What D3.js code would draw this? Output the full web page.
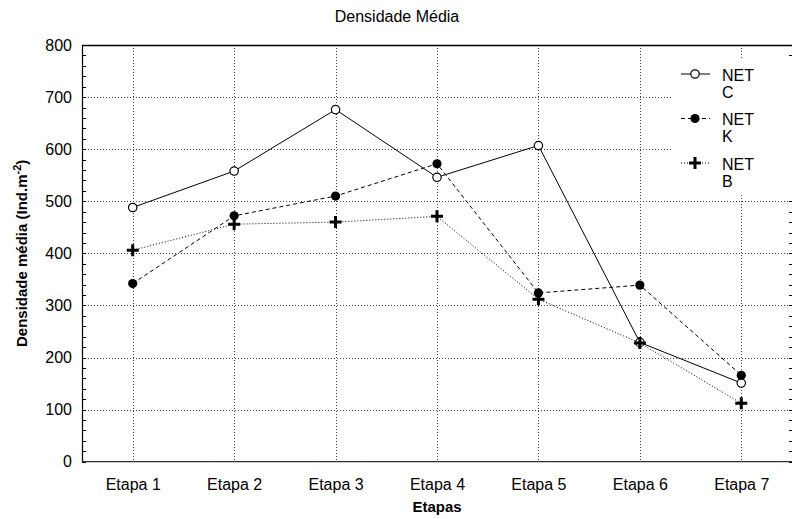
<!DOCTYPE html>
<html>
<head>
<meta charset="utf-8">
<script src="https://cdn.jsdelivr.net/npm/d3@7"></script>
<style>
  html, body { margin: 0; padding: 0; background: #fff; }
  svg { display: block; font-family: "Liberation Sans", Arial, sans-serif; }
</style>
</head>
<body>
<svg id="chart" width="793" height="519"></svg>
<script>
// Stages on the x axis
const etapas = ["Etapa 1", "Etapa 2", "Etapa 3", "Etapa 4", "Etapa 5", "Etapa 6", "Etapa 7"];
// Mean density (ind.m-2) per net type
const netC = [488, 558, 676, 546, 607, 229, 151];
const netK = [342, 472, 510, 572, 324, 339, 166];
const netB = [406, 456, 460, 471, 312, 228, 112];
// Y-axis ticks
const yTicks = [0, 100, 200, 300, 400, 500, 600, 700, 800];
const seriesNames = [["NET", "C"], ["NET", "K"], ["NET", "B"]];

const svg = d3.select("#chart");
const plotL = 82, plotR = 792, plotT = 45, plotB = 461.7;

const x = d3.scalePoint().domain(etapas).range([plotL, plotR]).padding(0.5);
const y = d3.scaleLinear().domain([0, 800]).range([plotB, plotT]);
const snap = v => Math.round(v) + 0.5;

const grid = svg.append("g").attr("stroke", "#444").attr("stroke-width", 1)
  .attr("stroke-dasharray", "1,2").attr("fill", "none");
// horizontal gridlines
grid.selectAll("line.h").data(yTicks.slice(1)).enter().append("line")
  .attr("x1", plotL).attr("x2", plotR)
  .attr("y1", d => snap(y(d))).attr("y2", d => snap(y(d)));
// vertical gridlines
grid.selectAll("line.v").data(etapas).enter().append("line")
  .attr("x1", d => snap(x(d))).attr("x2", d => snap(x(d)))
  .attr("y1", plotT).attr("y2", plotB);

// Frame: left axis, top border, bottom axis
svg.append("line").attr("x1", plotL + 0.5).attr("x2", plotL + 0.5).attr("y1", plotT).attr("y2", plotB + 0.5)
  .attr("stroke", "#000").attr("stroke-width", 1.2);
svg.append("line").attr("x1", plotL).attr("x2", plotR).attr("y1", plotT + 0.5).attr("y2", plotT + 0.5)
  .attr("stroke", "#000").attr("stroke-width", 1.5);
svg.append("line").attr("x1", plotL).attr("x2", plotR).attr("y1", plotB).attr("y2", plotB)
  .attr("stroke", "#333").attr("stroke-width", 1.3);

// Minor ticks every 20 on left and right sides
const minor = d3.range(0, 801, 20);
svg.append("g").selectAll("line").data(minor).enter().append("line")
  .attr("x1", plotL).attr("x2", plotL + 4)
  .attr("y1", d => snap(y(d))).attr("y2", d => snap(y(d)))
  .attr("stroke", "#000");
svg.append("g").selectAll("line").data(minor).enter().append("line")
  .attr("x1", plotR - 3).attr("x2", plotR)
  .attr("y1", d => snap(y(d))).attr("y2", d => snap(y(d)))
  .attr("stroke", "#000");

// Axis labels via d3 axes (domain paths hidden, frame drawn separately)
const yAxis = svg.append("g").attr("transform", `translate(${plotL},0)`)
  .call(d3.axisLeft(y).tickValues(yTicks).tickSize(0).tickPadding(10));
yAxis.select(".domain").remove();
yAxis.selectAll("text").attr("font-size", 16).attr("fill", "#000")
  .attr("font-family", "Liberation Sans, Arial, sans-serif");

const xAxis = svg.append("g").attr("transform", `translate(0,${plotB})`)
  .call(d3.axisBottom(x).tickSize(0).tickPadding(17));
xAxis.select(".domain").remove();
xAxis.selectAll("text").attr("font-size", 16).attr("fill", "#000")
  .attr("font-family", "Liberation Sans, Arial, sans-serif");

// Title and axis titles
svg.append("text").attr("x", 397).attr("y", 22).attr("text-anchor", "middle")
  .attr("font-size", 16).text("Densidade Média");
svg.append("text").attr("x", (plotL + plotR) / 2).attr("y", 512).attr("text-anchor", "middle")
  .attr("font-size", 15).attr("font-weight", "bold").text("Etapas");
const yl = svg.append("text").attr("transform", `translate(27,${(plotT + plotB) / 2}) rotate(-90)`)
  .attr("text-anchor", "middle").attr("font-size", 15).attr("font-weight", "bold");
yl.append("tspan").text("Densidade média (Ind.m");
yl.append("tspan").attr("dy", -6).attr("font-size", 11).text("-2");
yl.append("tspan").attr("dy", 6).text(")");

// Series
const line = d3.line().x((d, i) => x(etapas[i])).y(d => y(d));
const styles = [
  { data: netC, dash: null, marker: "open" },
  { data: netK, dash: "4,3", marker: "dot" },
  { data: netB, dash: "1,2", marker: "plus" }
];

function drawMarker(g, type, cx, cy) {
  if (type === "open") {
    g.append("circle").attr("cx", cx).attr("cy", cy).attr("r", 4.2)
      .attr("fill", "#fff").attr("stroke", "#000").attr("stroke-width", 1.2);
  } else if (type === "dot") {
    g.append("circle").attr("cx", cx).attr("cy", cy).attr("r", 4.6).attr("fill", "#000");
  } else {
    g.append("path").attr("d", `M${cx - 6},${cy}H${cx + 6}M${cx},${cy - 6}V${cy + 6}`)
      .attr("stroke", "#000").attr("stroke-width", 3).attr("fill", "none");
  }
}

styles.forEach(s => {
  svg.append("path").datum(s.data).attr("d", line).attr("fill", "none")
    .attr("stroke", "#000").attr("stroke-width", 1)
    .attr("stroke-dasharray", s.dash);
});
styles.forEach(s => {
  const g = svg.append("g");
  s.data.forEach((v, i) => drawMarker(g, s.marker, x(etapas[i]), y(v)));
});

// Legend
const lg = svg.append("g");
lg.append("rect").attr("x", 672).attr("y", 60).attr("width", 121).attr("height", 135).attr("fill", "#fff");
const rowY = [75, 119.5, 164];
styles.forEach((s, i) => {
  const cy = rowY[i];
  lg.append("line").attr("x1", 681).attr("x2", 710).attr("y1", cy - 1).attr("y2", cy - 1)
    .attr("stroke", "#000").attr("stroke-width", 1).attr("stroke-dasharray", s.dash);
  drawMarker(lg, s.marker, 695, cy - 1);
  lg.append("text").attr("x", 722).attr("y", cy + 5.5).attr("font-size", 16).text(seriesNames[i][0]);
  lg.append("text").attr("x", 722).attr("y", cy + 22.5).attr("font-size", 16).text(seriesNames[i][1]);
});
</script>
</body>
</html>
